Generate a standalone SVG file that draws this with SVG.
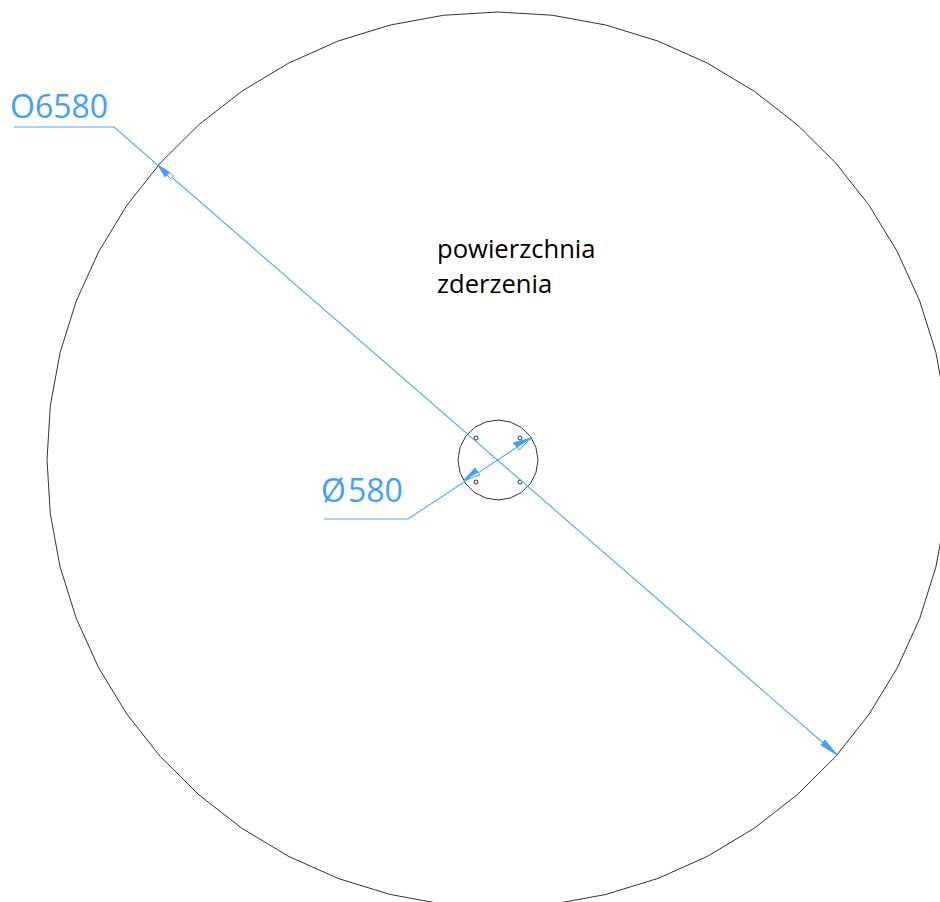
<svg xmlns="http://www.w3.org/2000/svg" width="940" height="902" viewBox="0 0 940 902">
<style>
.o{fill:none;stroke:#333;stroke-width:1}
.d{fill:none;stroke:#4da6ff;stroke-width:1.100}
.a{fill:#42a0ff;stroke:#42a0ff;stroke-width:1}
.b{fill:#fff;stroke:#42a0ff;stroke-width:1}
.t{font-family:"Open Sans","Liberation Sans",sans-serif}
.dt{font-size:32px;fill:#42a0ff}
.lb{font-size:25.600px;fill:#000}
</style>
<rect width="940" height="902" fill="#fff"/>
<g id="outer-circle"><polygon class="o" transform="translate(498 459.750)" points="451,0 447.7,54 437.9,107.200 421.7,158.800 399.300,208.100 371.200,254.300 337.600,296.900 299.100,335.100 256.200,368.500 209.600,396.500 159.900,418.700 107.900,434.700 54.400,444.500 0,447.750 -54.400,444.500 -107.900,434.700 -159.900,418.700 -209.600,396.500 -256.200,368.500 -299.100,335.100 -337.600,296.900 -371.200,254.300 -399.300,208.100 -421.700,158.800 -437.900,107.200 -447.700,54 -451,0 -447.700,-54 -437.900,-107.200 -421.700,-158.800 -399.300,-208.100 -371.200,-254.300 -337.600,-296.900 -299.100,-335.100 -256.200,-368.500 -209.600,-396.500 -159.900,-418.700 -107.900,-434.700 -54.400,-444.500 0,-447.750 54.400,-444.500 107.900,-434.700 159.900,-418.700 209.600,-396.500 256.200,-368.500 299.100,-335.100 337.600,-296.900 371.200,-254.300 399.300,-208.100 421.700,-158.800 437.900,-107.200 447.700,-54"/></g>
<g id="inner-circle"><polygon class="o" transform="translate(498 460)" points="40,0 38,12.400 32.400,23.500 23.500,32.400 12.400,38 0,40 -12.400,38 -23.500,32.400 -32.400,23.500 -38,12.400 -40,0 -38,-12.400 -32.400,-23.500 -23.500,-32.400 -12.400,-38 0,-40 12.400,-38 23.500,-32.400 32.400,-23.500 38,-12.400"/></g>
<g id="holes">
<circle class="o" cx="476" cy="438" r="2"/>
<circle class="o" cx="520" cy="438" r="2"/>
<circle class="o" cx="476" cy="482" r="2"/>
<circle class="o" cx="520" cy="482" r="2"/>
</g>
<g id="connectors">
<polyline class="d" points="14,127 114,127 837,755"/>
<polyline class="d" points="324,519 408,519 531,438"/>
<polygon class="a" points="158,165 169,172 165,177"/>
<polygon class="b" points="167,175 170,172.500 173.500,176 170.500,178.500"/>
<polygon class="a" points="837,755 825,740 821,745"/>
<polygon class="b" points="464,480 478,472 480,475"/>
<polygon class="a" points="464,480 475,468 478,472"/>
<polygon class="b" points="531,438 517,447 519,450"/>
<polygon class="a" points="531,438 513,443 517,447"/>
</g>
<g id="labels">
<text class="t dt" x="10" y="117.500">O6580</text>
<text class="t dt" x="321" y="502">Ø<tspan dx="2">580</tspan></text>
<text class="t lb" x="437" y="257.500">powierzchnia</text>
<text class="t lb" x="437" y="293">zderzenia</text>
</g>
</svg>
